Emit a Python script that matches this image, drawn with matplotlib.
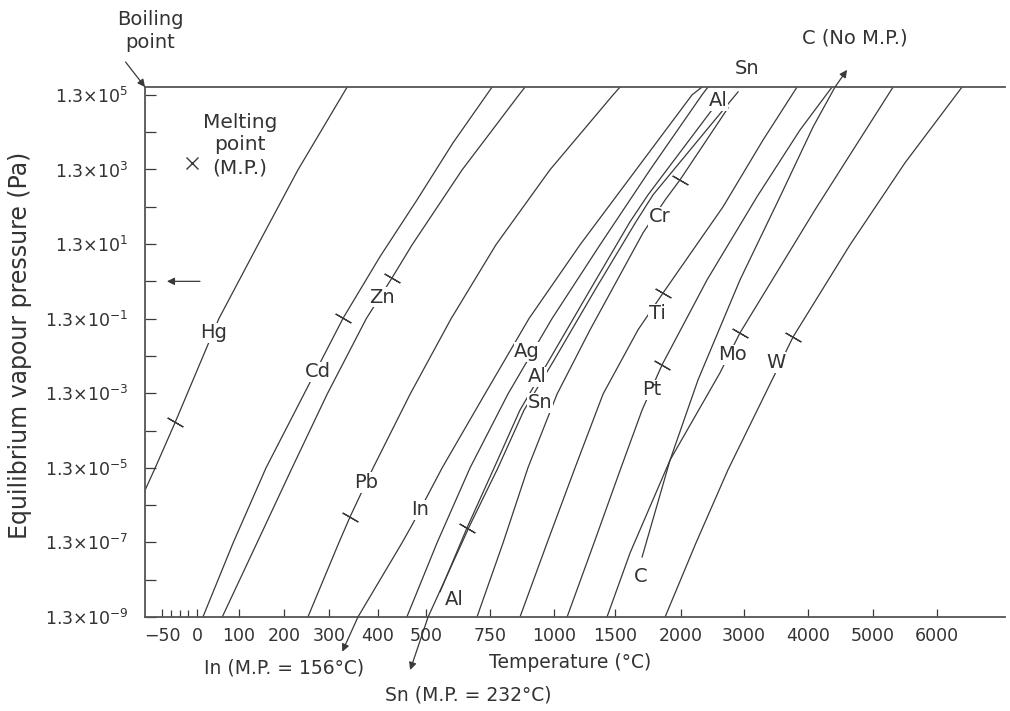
import numpy as np
import matplotlib
matplotlib.use("Agg")
import matplotlib.pyplot as plt
from matplotlib.ticker import FixedLocator, FixedFormatter, NullFormatter

plt.rcParams['font.family'] = ['DejaVu Sans']

INK = '#3a3a3a'
TXT = '#333333'

# the temperature axis of the original is not uniform: tick values and
# where each one sits along the axis (distance from the left spine)
SCALE_T   = [-75, -50, 0, 100, 200, 300, 400, 500, 750, 1000, 1500, 2000, 3000, 4000, 5000, 6000, 7050]
SCALE_POS = [0, 17, 52, 94, 139, 184, 233, 281, 345, 409, 470, 536, 599, 663, 728, 792, 860]

T_TICKS = [-50, 0, 100, 200, 300, 400, 500, 750, 1000, 1500, 2000, 3000, 4000, 5000, 6000]
T_LABELS = ['\u221250', '0', '100', '200', '300', '400', '500', '750', '1000',
            '1500', '2000', '3000', '4000', '5000', '6000']
T_MINOR = [-37, -24, -13]

HG_T = [-75, -60, -31, 52, 142, 231, 337]
HG_K = [-5.6, -5.0, -3.77, -1.0, 0.98, 2.99, 5.21]
CD_T = [14, 86, 160, 247, 329, 404, 481, 605, 758]
CD_K = [-9.0, -7.01, -5.0, -2.96, -0.98, 0.66, 2.18, 3.71, 5.21]
ZN_T = [60, 140, 218, 296, 376, 429, 471, 641, 863, 887]
ZN_K = [-9.0, -7.01, -5.0, -3.02, -1.0, 0.09, 0.98, 2.99, 5.0, 5.21]
PB_T = [253, 320, 343, 390, 467, 598, 773, 984, 1484, 1538]
PB_K = [-9.0, -7.01, -6.31, -5.0, -3.02, -1.0, 0.98, 2.99, 5.0, 5.21]
IN_T = [359, 450, 471, 563, 730, 902, 1213, 1659, 2175, 2333]
IN_K = [-9.0, -7.01, -6.53, -5.0, -3.02, -1.0, 0.98, 2.99, 5.0, 5.21]
AG_T = [460, 543, 672, 820, 992, 1377, 1765, 2333, 2428]
AG_K = [-9.0, -7.01, -5.0, -3.02, -1.0, 0.98, 2.99, 5.0, 5.21]
AL_T = [555, 660, 766, 867, 977, 1295, 1614, 1750, 2492]
AL_K = [-8.32, -6.61, -5.0, -3.45, -2.16, -0.23, 1.60, 2.32, 4.60]
SN_T = [508, 672, 781, 883, 996, 1336, 1659, 1788, 2905]
SN_K = [-9.0, -6.53, -5.0, -3.45, -2.16, -0.23, 1.60, 2.32, 5.08]
CR_T = [699, 801, 898, 1025, 1295, 1712, 1879, 1992, 2746]
CR_K = [-9.0, -7.01, -5.0, -3.02, -1.30, 1.30, 2.18, 2.72, 4.65]
TI_T = [867, 973, 1172, 1402, 1674, 1864, 2667, 3297, 3828]
TI_K = [-9.0, -7.01, -5.0, -3.02, -1.30, -0.31, 2.0, 3.79, 5.21]
PT_T = [1107, 1328, 1545, 1705, 1856, 2413, 3203, 3875, 4369]
PT_K = [-9.0, -7.01, -5.0, -3.45, -2.24, 0.04, 2.27, 4.06, 5.21]
MO_T = [1434, 1614, 1917, 2619, 2936, 4108, 5313]
MO_K = [-9.0, -7.28, -4.79, -2.45, -1.38, 1.92, 5.21]
C_T = [1705, 1917, 2270, 2936, 3563, 4077, 4415]
C_K = [-7.39, -4.79, -2.64, 0.04, 2.27, 4.14, 5.21]
W_T = [1879, 2238, 2746, 3453, 3766, 4646, 5500, 6386]
W_K = [-9.0, -7.01, -5.05, -2.59, -1.49, 0.98, 3.18, 5.21]

# melting points marked on the curves
MP_T = [-31, 329, 429, 343, 660, 1992, 1864, 1856, 2936, 3766]
MP_K = [-3.77, -0.98, 0.09, -6.31, -6.61, 2.72, -0.31, -2.24, -1.38, -1.49]

LABEL_TEXT = ['Hg', 'Cd', 'Zn', 'Pb', 'In', 'Ag', 'Al', 'Sn', 'Al', 'Cr', 'Ti',
              'Pt', 'Mo', 'W', 'C', 'Al']
LABEL_T = [40, 276, 408, 376, 487, 895, 934, 945, 609, 1841, 1818, 1780, 2809,
           3500, 1697, 2587]
LABEL_K = [-1.38, -2.43, -0.42, -5.40, -6.13, -1.89, -2.56, -3.26, -8.54, 1.73,
           -0.87, -2.91, -1.97, -2.18, -7.92, 4.84]

K_TOP = 5.21


def pa(k):
    return 1.3 * 10.0 ** np.asarray(k, dtype=float)


def fwd(t):
    return np.interp(t, SCALE_T, SCALE_POS)


def inv(p):
    return np.interp(p, SCALE_POS, SCALE_T)


fig = plt.figure(figsize=(10.1, 7.11), dpi=100)
ax = fig.add_axes([0.1436, 0.1322, 0.8515, 0.7454])
ax.set_xscale('function', functions=(fwd, inv))
ax.set_yscale('log')
ax.set_xlim(-75, 7050)
ax.set_ylim(1.3e-9, pa(K_TOP))

curves = [(HG_T, HG_K), (CD_T, CD_K), (ZN_T, ZN_K), (PB_T, PB_K), (IN_T, IN_K),
          (AG_T, AG_K), (AL_T, AL_K), (SN_T, SN_K), (CR_T, CR_K), (TI_T, TI_K),
          (PT_T, PT_K), (MO_T, MO_K), (C_T, C_K), (W_T, W_K)]
for t, k in curves:
    ax.plot(t, pa(k), color=INK, lw=0.9, zorder=2)

ax.plot(MP_T, pa(MP_K), ls='none', marker=(2, 2, 60), ms=13, mew=0.9,
        color=INK, zorder=2)

for s, t, k in zip(LABEL_TEXT, LABEL_T, LABEL_K):
    ax.text(t, pa(k), s, ha='center', va='center', fontsize=14, color=TXT,
            zorder=4, bbox=dict(fc='white', ec='none', pad=0.5))

# legend-ish note for the melting point mark
ax.plot([-7], pa([3.18]), ls='none', marker='x', ms=9, mew=1.0, color=INK)
ax.text(102, pa(3.66), 'Melting\npoint\n(M.P.)', ha='center', va='center',
        fontsize=14.5, color=TXT, linespacing=1.25)

arrow = dict(arrowstyle='-|>', color=INK, lw=0.9, mutation_scale=11,
             shrinkA=0, shrinkB=0)
ax.annotate('', xy=(-43, pa(0.0)), xytext=(7, pa(0.0)), arrowprops=arrow)
ax.annotate('', xy=(327, pa(-9.93)), xytext=(359, pa(-9.0)),
            arrowprops=arrow, annotation_clip=False)
ax.annotate('', xy=(467, pa(-10.42)), xytext=(508, pa(-9.0)),
            arrowprops=arrow, annotation_clip=False)
ax.annotate('', xy=(4600, pa(5.67)), xytext=(4415, pa(K_TOP)),
            arrowprops=arrow, annotation_clip=False)
ax.annotate('', xy=(0, 1), xycoords='axes fraction', xytext=(-14, 18),
            textcoords='offset points', arrowprops=arrow, annotation_clip=False)

# texts outside the frame
fig.text(150 / 1010, 1 - 31 / 711, 'Boiling\npoint', ha='center', va='center',
         fontsize=14, color=TXT, linespacing=1.3)
fig.text(747 / 1010, 1 - 68 / 711, 'Sn', ha='center', va='center',
         fontsize=14, color=TXT)
fig.text(855 / 1010, 1 - 38 / 711, 'C (No M.P.)', ha='center', va='center',
         fontsize=14, color=TXT)
fig.text(284 / 1010, 1 - 668 / 711, 'In (M.P. = 156\u00b0C)', ha='center',
         va='center', fontsize=13.5, color=TXT)
fig.text(468 / 1010, 1 - 695 / 711, 'Sn (M.P. = 232\u00b0C)', ha='center',
         va='center', fontsize=13.5, color=TXT)
fig.text(570 / 1010, 1 - 662 / 711, 'Temperature (\u00b0C)', ha='center',
         va='center', fontsize=13.5, color=TXT)
fig.text(20 / 1010, 1 - 345 / 711, 'Equilibrium vapour pressure (Pa)',
         ha='center', va='center', rotation=90, fontsize=17, color=TXT)

# axes styling
ax.xaxis.set_major_locator(FixedLocator(T_TICKS))
ax.xaxis.set_major_formatter(FixedFormatter(T_LABELS))
ax.xaxis.set_minor_locator(FixedLocator(T_MINOR))
ax.xaxis.set_minor_formatter(NullFormatter())

y_major = [k for k in range(-9, 6, 2)]
y_minor = [k for k in range(-8, 5, 2)]
ax.yaxis.set_major_locator(FixedLocator(pa(y_major)))
ax.yaxis.set_major_formatter(FixedFormatter(
    [r'1.3$\times$10$^{%d}$' % k for k in y_major]))
ax.yaxis.set_minor_locator(FixedLocator(pa(y_minor)))
ax.yaxis.set_minor_formatter(NullFormatter())

ax.tick_params(axis='y', which='both', direction='in', length=8, width=0.9,
               color=INK, labelsize=12.5, labelcolor=TXT, pad=12)
ax.tick_params(axis='x', which='major', direction='in', length=6, width=0.9,
               color=INK, labelsize=12.5, labelcolor=TXT, pad=7)
ax.tick_params(axis='x', which='minor', direction='in', length=5, width=0.9,
               color=INK)

ax.spines['right'].set_visible(False)
for side in ['left', 'bottom', 'top']:
    ax.spines[side].set_color('#555555')
    ax.spines[side].set_linewidth(1.3)

fig.savefig('out.png', dpi=100)
